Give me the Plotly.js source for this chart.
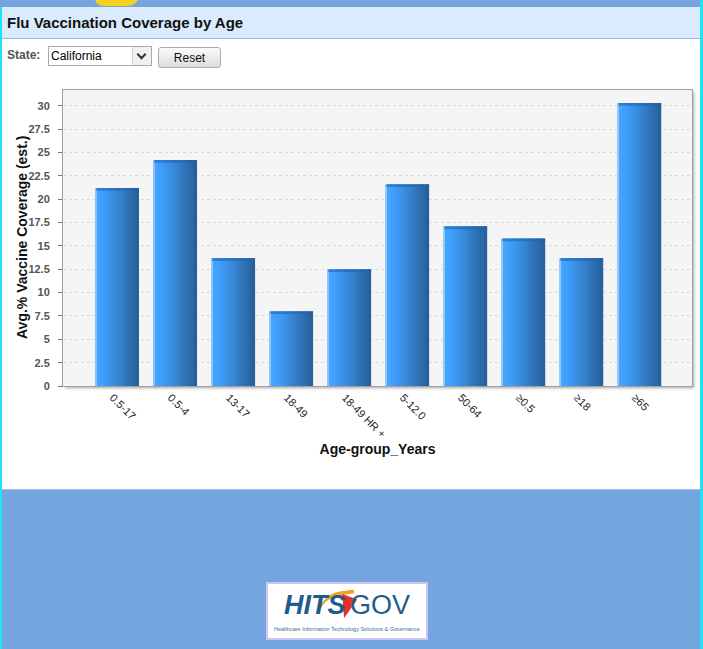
<!DOCTYPE html>
<html>
<head>
<meta charset="utf-8">
<script src="https://cdn.plot.ly/plotly-3.0.1.min.js"></script>
<style>
  html, body { margin:0; padding:0; width:703px; height:649px; overflow:hidden; background:#74a5df; font-family:"Liberation Sans", Arial, sans-serif; }
  #page { position:absolute; left:0; top:0; width:703px; height:649px; }
  #blob { position:absolute; left:93px; top:-8px; width:46px; height:14px; background:#f6d21e; border-radius:0 0 14px 22px; transform:skewX(-20deg); }
  #cyanL { position:absolute; left:0; top:7px; width:2px; height:642px; background:#21e1f5; }
  #cyanR { position:absolute; left:700px; top:0px; width:3px; height:649px; background:#21e1f5; }
  #header { position:absolute; left:2px; top:7px; width:698px; height:31px; background:#d9ebfc; border-bottom:1px solid #8fbde9; }
  #header span { position:absolute; left:5px; top:7px; font-weight:bold; font-size:15px; color:#111; }
  #panel { position:absolute; left:2px; top:39px; width:698px; height:450px; background:#ffffff; border-bottom:1px solid #9cc0ea; }
  #state { position:absolute; left:7px; top:48px; font-weight:bold; font-size:12px; color:#555; }
  #select { position:absolute; left:48px; top:46px; width:102px; height:18px; border:1px solid #a9a9b8; background:#fff; font-size:12px; }
  #select span { position:absolute; left:2px; top:2px; color:#000; }
  #select .arr { position:absolute; right:0; top:0; width:18px; height:18px; background:#f0f0f0; border-left:1px solid #ccc; }
  #select .arr i { position:absolute; left:5px; top:4px; width:5px; height:5px; border-right:2px solid #333; border-bottom:2px solid #333; transform:rotate(45deg); }
  #reset { position:absolute; left:158px; top:47px; width:61px; height:19px; border:1px solid #aaa; border-radius:3px; background:linear-gradient(#fbfbfb,#dcdcdc); font-size:12px; text-align:center; line-height:20px; color:#111; }
  #shadow { position:absolute; left:63px; top:90px; width:629px; height:296px; box-shadow:2px 2px 3px rgba(0,0,0,0.35); background:#f5f5f5; }
  #chart { position:absolute; left:0; top:0; width:703px; height:649px; }
  #logo { position:absolute; left:266px; top:582px; width:158px; height:54px; background:#fff; border:2px solid #c9c6f2; }
  #logo .hits { position:absolute; left:16px; top:6px; font-size:27px; font-weight:bold; font-style:italic; color:#1f5c8c; }
  #logo .gov { position:absolute; left:82px; top:6px; font-size:27px; color:#1f5c8c; font-weight:normal; }
  #logo .sw1 { position:absolute; left:48px; top:8px; width:40px; height:22px; border-top:4px solid #f2a324; border-radius:40px 0 0 0; transform:rotate(-8deg); }
  #logo .sw2 { position:absolute; left:70px; top:12px; width:0; height:0; border-left:10px solid transparent; border-right:6px solid transparent; border-top:22px solid #e2302a; transform:rotate(20deg); }
  #logo .tag { position:absolute; left:6px; top:42px; font-size:5.5px; color:#2b7a86; white-space:nowrap; }
</style>
</head>
<body>
<div id="page">
  <div id="blob"></div>
  <div id="header"><span>Flu Vaccination Coverage by Age</span></div>
  <div id="panel"></div>
  <div id="cyanL"></div>
  <div id="cyanR"></div>
  <div id="state">State:</div>
  <div id="select"><span>California</span><div class="arr"><i></i></div></div>
  <div id="reset">Reset</div>
  <div id="shadow"></div>
  <div id="logo">
    <div class="sw1"></div><div class="sw2"></div>
    <div class="hits">HITS</div><div class="gov">GOV</div>
    <div class="tag">Healthcare Information Technology Solutions &amp; Governance</div>
  </div>
</div>
<div id="chart"></div>
<script>
// ---- data ----
var ageGroups = ["0.5-17", "0.5-4", "13-17", "18-49", "18-49 HR +", "5-12.0", "50-64", "\u22650.5", "\u226518", "\u226565"];
var coverage  = [21.2, 24.2, 13.7, 8.0, 12.5, 21.6, 17.1, 15.8, 13.7, 30.3];
var yTickVals = [0, 2.5, 5, 7.5, 10, 12.5, 15, 17.5, 20, 22.5, 25, 27.5, 30];
var yTickText = ["0", "2.5", "5", "7.5", "10", "12.5", "15", "17.5", "20", "22.5", "25", "27.5", "30"];
var xTitle = "Age-group_Years";
var yTitle = "Avg.% Vaccine Coverage (est.)";

// ---- style: bars drawn as vertical strips to imitate the gradient ----
var barWidth = 0.76;
var stripColors = ["#8fc6f7", "#43a3ff", "#40a0fc", "#3d9bf5", "#3b95ec", "#398fe2", "#3789d8", "#3582cd", "#327bc2", "#3074b8", "#2d6eae", "#2b68a6", "#28609c"];
var stripFrac   = [0.045, 0.08, 0.08, 0.08, 0.08, 0.08, 0.08, 0.08, 0.08, 0.08, 0.08, 0.08, 0.075];
var traces = [];
var off = -barWidth / 2;
for (var i = 0; i < stripColors.length; i++) {
  var w = barWidth * stripFrac[i];
  var last = (i === stripColors.length - 1);
  traces.push({
    type: "bar", x: ageGroups, y: coverage,
    width: last ? w : w + 0.025, offset: off,
    marker: { color: stripColors[i], line: { width: 0 } },
    hoverinfo: "skip", showlegend: false
  });
  off += w;
}
// darker top bevel
traces.push({
  type: "bar", x: ageGroups, y: coverage.map(function(){ return 0.3; }),
  base: coverage.map(function(v){ return v - 0.3; }),
  width: barWidth - 0.02, offset: -barWidth / 2 + 0.02,
  marker: { color: "rgba(30,95,180,0.55)", line: { width: 0 } },
  hoverinfo: "skip", showlegend: false
});

var layout = {
  width: 703, height: 649,
  margin: { l: 63, r: 11, t: 90, b: 263 },
  paper_bgcolor: "rgba(0,0,0,0)",
  plot_bgcolor: "#f5f5f5",
  barmode: "overlay",
  showlegend: false,
  font: { family: "Liberation Sans, Arial, sans-serif", color: "#222" },
  xaxis: {
    type: "category",
    range: [-0.93, 9.91],
    tickangle: 45,
    tickfont: { size: 11, color: "#222" },
    ticklabelshift: -4,
    showgrid: false,
    showline: true, mirror: true, linecolor: "#a0a0a0", linewidth: 1,
    ticks: "",
    title: { text: xTitle, font: { size: 14, color: "#111", weight: "bold" }, standoff: 5 },
    automargin: false
  },
  yaxis: {
    range: [0, 31.7],
    tickvals: yTickVals, ticktext: yTickText,
    tickfont: { size: 11, color: "#555", weight: "bold" },
    ticks: "outside", ticklen: 4, tickcolor: "#777", tickwidth: 1,
    ticklabelstandoff: 6,
    showgrid: true, gridcolor: "#d9d9d9", griddash: "3px,3px", gridwidth: 1,
    zeroline: false,
    showline: true, mirror: true, linecolor: "#a0a0a0", linewidth: 1,
    automargin: false
  },
  annotations: [{
    text: yTitle, xref: "paper", yref: "paper", x: 0, y: 0.5,
    xanchor: "center", yanchor: "middle", xshift: -41, textangle: -90,
    showarrow: false, font: { size: 14, color: "#111", weight: "bold" }
  }]
};

Plotly.newPlot("chart", traces, layout, { displayModeBar: false, staticPlot: true });
</script>
</body>
</html>
